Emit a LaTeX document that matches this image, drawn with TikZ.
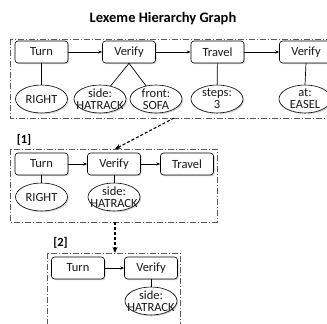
\documentclass[tikz,border=0pt]{standalone}
\usepackage{fontspec}
\setmainfont{Carlito}
\usetikzlibrary{arrows.meta,shapes.geometric,shadows}

\tikzset{
  frame/.style={draw=black!65, line width=0.7pt, dash pattern=on 6pt off 2pt on 1pt off 2pt},
  action/.style={draw=black, line width=0.6pt, rounded corners=3pt, fill=white,
    minimum width=53pt, minimum height=22pt, inner sep=0pt,
    font=\fontsize{12.5}{12.5}\selectfont, text=black!90,
    drop shadow={shadow xshift=1.2pt, shadow yshift=-1.2pt, opacity=0.35}},
  leaf/.style={ellipse, draw=black, line width=0.6pt, fill=white,
    minimum width=52pt, minimum height=28pt, inner sep=-20pt,
    align=center, font=\fontsize{12.5}{12}\selectfont, text=black!90,
    drop shadow={shadow xshift=1.2pt, shadow yshift=-1.2pt, opacity=0.35}},
  seq/.style={draw=black, line width=0.7pt, -{Stealth[length=4pt,width=3.2pt]}},
  link/.style={draw=black, line width=0.7pt},
  reduce/.style={draw=black, line width=1.1pt, dash pattern=on 3pt off 2pt,
    -{Stealth[length=6pt,width=5pt]}},
  tag/.style={font=\fontsize{12.5}{12.5}\selectfont\bfseries, inner sep=0pt},
}

\begin{document}
\begin{tikzpicture}[x=1pt,y=-1pt]
\useasboundingbox (0,0) rectangle (327,324);
\clip (0,0) rectangle (327,324);

\node[font=\fontsize{14.5}{14.5}\selectfont\bfseries, inner sep=0pt] (title) at (163,19) {Lexeme Hierarchy Graph};

% --- full plan ---
\draw[frame] (10,39) rectangle (345,118);
\node[action] (t1) at (41.5,52) {Turn};
\node[action] (v1) at (129,52) {Verify};
\node[action] (m1) at (217.5,52) {Travel};
\node[action] (w1) at (306,52) {Verify};
\node[leaf] (r1) at (41.5,99) {RIGHT};
\node[leaf] (h1) at (100,99) {side:\\HATRACK};
\node[leaf] (s1) at (156,99) {front:\\SOFA};
\node[leaf] (p1) at (217,99) {steps:\\3};
\node[leaf] (e1) at (305,99) {at:\\EASEL};
\draw[seq] (t1) -- (v1);
\draw[seq] (v1) -- (m1);
\draw[seq] (m1) -- (w1);
\draw[link] (t1) -- (r1);
\draw[link] (v1.south) -- (h1);
\draw[link] (v1.south) -- (s1);
\draw[link] (m1) -- (p1);
\draw[link] (w1.south) -- (e1.north);

% --- first reduction ---
\node[tag] (l1) at (24,140) {[1]};
\draw[frame] (10,149) rectangle (217,222);
\node[action] (t2) at (41.5,164) {Turn};
\node[action] (v2) at (114,164) {Verify};
\node[action] (m2) at (187,164) {Travel};
\node[leaf] (r2) at (41.5,197) {RIGHT};
\node[leaf] (h2) at (114,197) {side:\\HATRACK};
\draw[seq] (t2) -- (v2);
\draw[seq] (v2) -- (m2);
\draw[link] (t2) -- (r2);
\draw[link] (v2) -- (h2);

% --- second reduction ---
\node[tag] (l2) at (60.5,243) {[2]};
\draw[frame] (47,253) rectangle (180,345);
\node[action] (t3) at (78,268) {Turn};
\node[action] (v3) at (151,268) {Verify};
\node[leaf] (h3) at (151,301) {side:\\HATRACK};
\draw[seq] (t3) -- (v3);
\draw[link] (v3) -- (h3);

% --- reduction steps ---
\coordinate (a1) at (174,118);
\coordinate (b1) at (115,149);
\coordinate (a2) at (115,222);
\coordinate (b2) at (115,253);
\draw[reduce] (a1) -- (b1);
\draw[reduce] (a2) -- (b2);
\end{tikzpicture}
\end{document}
